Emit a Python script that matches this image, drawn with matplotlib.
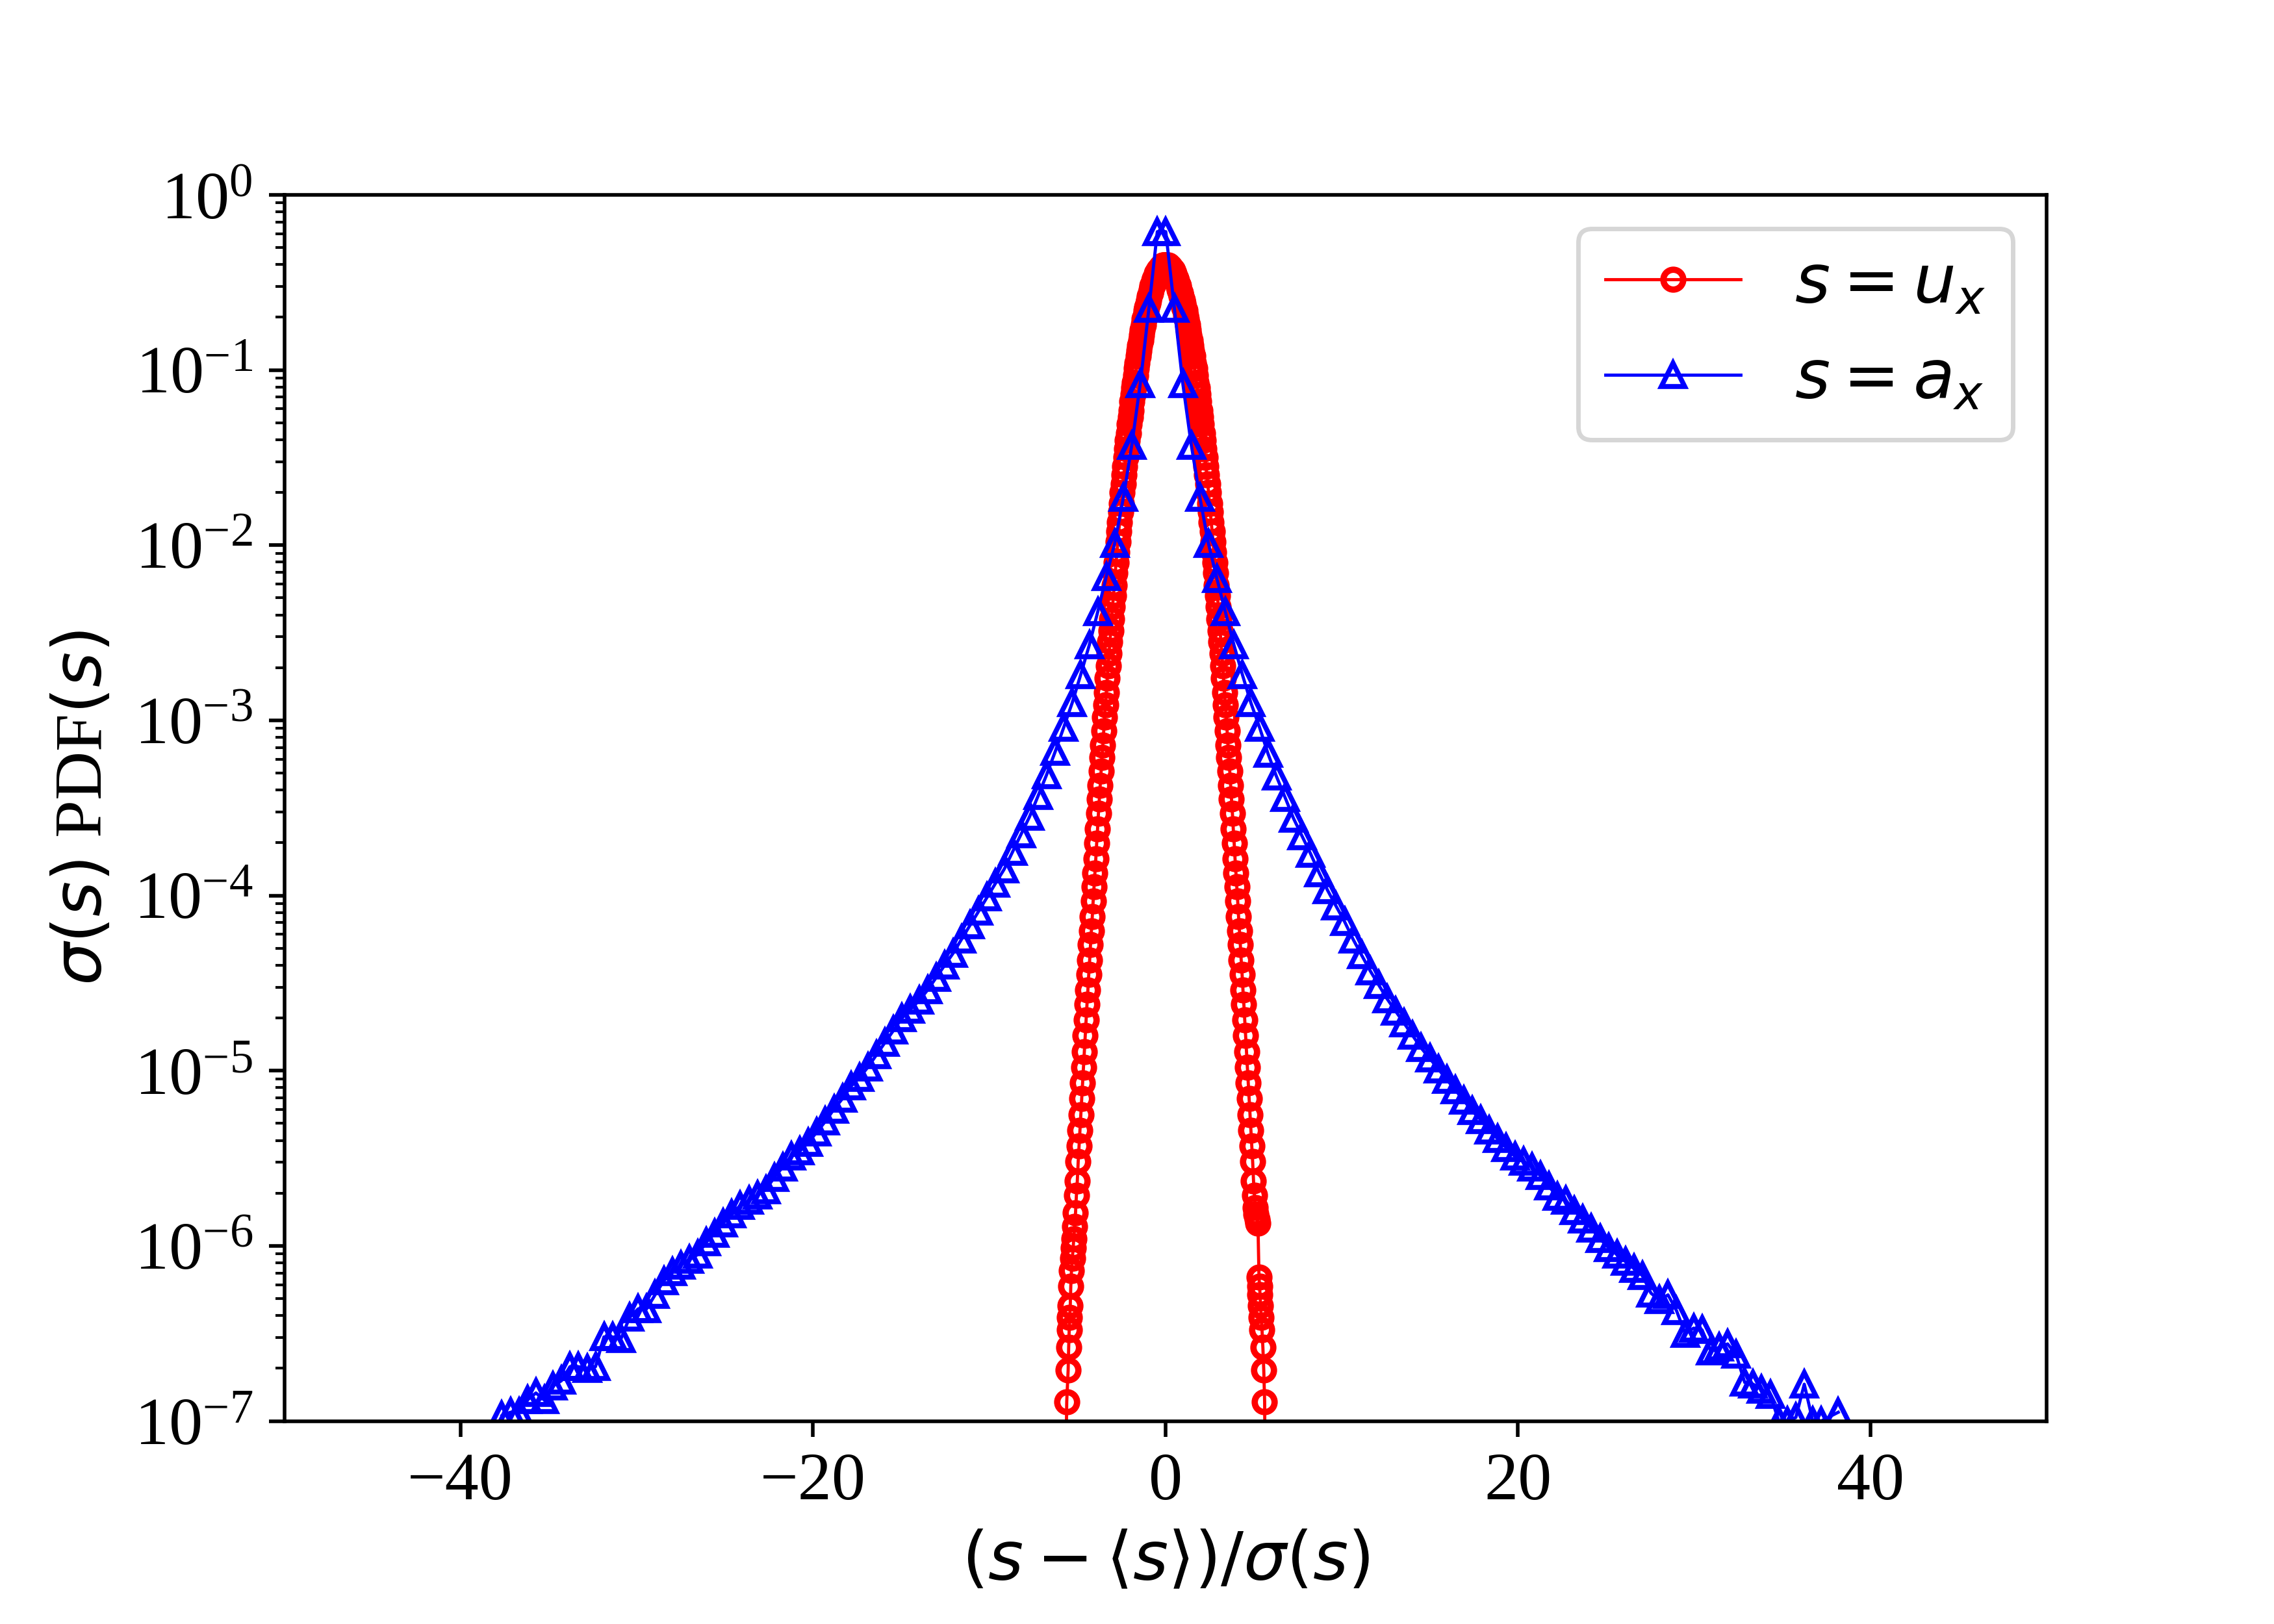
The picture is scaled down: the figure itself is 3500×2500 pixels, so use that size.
import numpy as np
import matplotlib.pyplot as plt

# PDF of s = u_x (velocity), bin centres and log10 of sigma*PDF
ux_x = [
    -5.75, -5.60, -5.52, -5.49, -5.46, -5.43, -5.40, -5.37, -5.33, -5.28,
    -5.24, -5.20, -5.15, -5.10, -5.05, -5.00, -4.95, -4.90, -4.85, -4.80, -4.75,
    -4.70, -4.65, -4.60, -4.55, -4.50, -4.45, -4.40, -4.35, -4.30, -4.25,
    -4.20, -4.15, -4.10, -4.05, -4.00, -3.95, -3.90, -3.85, -3.80, -3.75,
    -3.70, -3.65, -3.60, -3.55, -3.50, -3.45, -3.40, -3.35, -3.30, -3.25,
    -3.20, -3.15, -3.10, -3.05, -3.00, -2.95, -2.90, -2.85, -2.80, -2.75,
    -2.70, -2.65, -2.60, -2.55, -2.50, -2.45, -2.40, -2.35, -2.30, -2.25,
    -2.20, -2.15, -2.10, -2.05, -2.00, -1.95, -1.90, -1.85, -1.80, -1.75,
    -1.70, -1.65, -1.60, -1.55, -1.50, -1.45, -1.40, -1.35, -1.30, -1.25,
    -1.20, -1.15, -1.10, -1.05, -1.00, -0.95, -0.90, -0.85, -0.80, -0.75,
    -0.70, -0.65, -0.60, -0.55, -0.50, -0.45, -0.40, -0.35, -0.30, -0.25,
    -0.20, -0.15, -0.10, -0.05, 0.00,
    0.05, 0.10, 0.15, 0.20, 0.25, 0.30, 0.35, 0.40, 0.45,
    0.50, 0.55, 0.60, 0.65, 0.70, 0.75, 0.80, 0.85, 0.90, 0.95,
    1.00, 1.05, 1.10, 1.15, 1.20, 1.25, 1.30, 1.35, 1.40, 1.45,
    1.50, 1.55, 1.60, 1.65, 1.70, 1.75, 1.80, 1.85, 1.90, 1.95,
    2.00, 2.05, 2.10, 2.15, 2.20, 2.25, 2.30, 2.35, 2.40, 2.45,
    2.50, 2.55, 2.60, 2.65, 2.70, 2.75, 2.80, 2.85, 2.90, 2.95,
    3.00, 3.05, 3.10, 3.15, 3.20, 3.25, 3.30, 3.35, 3.40, 3.45,
    3.50, 3.55, 3.60, 3.65, 3.70, 3.75, 3.80, 3.85, 3.90, 3.95,
    4.00, 4.05, 4.10, 4.15, 4.20, 4.25, 4.30, 4.35, 4.40, 4.45,
    4.50, 4.55, 4.60, 4.65, 4.70, 4.75, 4.80, 4.85, 4.90, 4.95,
    5.00, 5.05, 5.10, 5.15, 5.20, 5.25, 5.31, 5.34, 5.37, 5.40,
    5.44, 5.48, 5.53, 5.58, 5.63, 5.70,
]
ux_logpdf = [
    -8.00, -6.89, -6.71, -6.58, -6.48, -6.41, -6.34, -6.23, -6.14, -6.07,
    -6.01, -5.96, -5.89, -5.81, -5.71, -5.63, -5.52, -5.43, -5.34, -5.25, -5.16,
    -5.07, -4.98, -4.89, -4.80, -4.71, -4.62, -4.54, -4.45, -4.37, -4.28,
    -4.20, -4.12, -4.03, -3.95, -3.87, -3.79, -3.70, -3.62, -3.53, -3.45,
    -3.37, -3.29, -3.21, -3.14, -3.06, -2.98, -2.91, -2.84, -2.76, -2.69,
    -2.62, -2.55, -2.49, -2.42, -2.35, -2.29, -2.23, -2.16, -2.10, -2.04,
    -1.98, -1.92, -1.87, -1.81, -1.76, -1.70, -1.65, -1.60, -1.55, -1.50,
    -1.45, -1.40, -1.36, -1.31, -1.27, -1.23, -1.18, -1.14, -1.10, -1.07,
    -1.03, -0.99, -0.96, -0.92, -0.89, -0.86, -0.83, -0.80, -0.77, -0.74,
    -0.71, -0.69, -0.66, -0.64, -0.62, -0.60, -0.58, -0.56, -0.54, -0.52,
    -0.51, -0.49, -0.48, -0.47, -0.45, -0.44, -0.43, -0.43, -0.42, -0.41,
    -0.41, -0.40, -0.40, -0.40, -0.40,
    -0.40, -0.40, -0.40, -0.41, -0.41, -0.42, -0.43, -0.43, -0.44,
    -0.45, -0.47, -0.48, -0.49, -0.51, -0.52, -0.54, -0.56, -0.58, -0.60,
    -0.62, -0.64, -0.66, -0.69, -0.71, -0.74, -0.77, -0.80, -0.83, -0.86,
    -0.89, -0.92, -0.96, -0.99, -1.03, -1.07, -1.10, -1.14, -1.18, -1.23,
    -1.27, -1.31, -1.36, -1.40, -1.45, -1.50, -1.55, -1.60, -1.65, -1.70,
    -1.76, -1.81, -1.87, -1.92, -1.98, -2.04, -2.10, -2.16, -2.23, -2.29,
    -2.35, -2.42, -2.49, -2.55, -2.62, -2.69, -2.76, -2.84, -2.91, -2.98,
    -3.06, -3.14, -3.21, -3.29, -3.37, -3.45, -3.53, -3.62, -3.70, -3.79,
    -3.87, -3.95, -4.03, -4.12, -4.20, -4.28, -4.37, -4.45, -4.54, -4.62,
    -4.71, -4.80, -4.89, -4.98, -5.07, -5.16, -5.25, -5.34, -5.43, -5.52,
    -5.63, -5.71, -5.78, -5.82, -5.85, -5.87, -6.18, -6.23, -6.28, -6.34,
    -6.41, -6.48, -6.58, -6.71, -6.89, -8.00,
]

# PDF of s = a_x (acceleration)
ax_x = [
    -37.65, -37.17, -36.69, -36.20, -35.72, -35.24, -34.75, -34.27, -33.79, -33.30,
    -32.82, -32.34, -31.86, -31.37, -30.89, -30.41, -29.92, -29.44, -28.96, -28.47,
    -27.99, -27.51, -27.03, -26.54, -26.06, -25.58, -25.09, -24.61, -24.13, -23.64,
    -23.16, -22.68, -22.20, -21.71, -21.23, -20.75, -20.26, -19.78, -19.30, -18.81,
    -18.33, -17.85, -17.37, -16.88, -16.40, -15.92, -15.43, -14.95, -14.47, -13.98,
    -13.50, -13.02, -12.54, -12.05, -11.57, -11.09, -10.60, -10.12, -9.64, -9.15,
    -8.67, -8.19, -7.71, -7.22, -6.74, -6.26, -5.77, -5.29, -4.81, -4.32,
    -3.84, -3.36, -2.88, -2.39, -1.91, -1.43, -0.94, -0.46,
    0.02, 0.51, 0.99, 1.47, 1.96, 2.44, 2.92, 3.40, 3.89, 4.37,
    4.85, 5.34, 5.82, 6.30, 6.79, 7.27, 7.75, 8.23, 8.72, 9.20,
    9.68, 10.17, 10.65, 11.13, 11.62, 12.10, 12.58, 13.06, 13.55, 14.03,
    14.51, 15.00, 15.48, 15.96, 16.45, 16.93, 17.41, 17.89, 18.38, 18.86,
    19.34, 19.83, 20.31, 20.79, 21.28, 21.76, 22.24, 22.72, 23.21, 23.69,
    24.17, 24.66, 25.14, 25.62, 26.11, 26.59, 27.07, 27.55, 28.04, 28.52,
    29.00, 29.49, 29.97, 30.45, 30.94, 31.42, 31.90, 32.38, 32.87, 33.35,
    33.83, 34.32, 34.80, 35.28, 35.77, 36.25, 36.73, 37.21, 38.18,
]
ax_logpdf = [
    -6.97, -6.95, -6.95, -6.88, -6.84, -6.88, -6.80, -6.77, -6.69, -6.69,
    -6.70, -6.69, -6.52, -6.52, -6.53, -6.41, -6.36, -6.36, -6.28, -6.20,
    -6.15, -6.11, -6.08, -6.05, -5.98, -5.93, -5.87, -5.82, -5.77, -5.74,
    -5.71, -5.68, -5.61, -5.55, -5.49, -5.46, -5.41, -5.35, -5.29, -5.22,
    -5.16, -5.09, -5.04, -4.98, -4.91, -4.84, -4.77, -4.70, -4.65, -4.60,
    -4.54, -4.47, -4.40, -4.33, -4.25, -4.17, -4.09, -4.01, -3.93, -3.85,
    -3.75, -3.65, -3.55, -3.43, -3.31, -3.18, -3.04, -2.90, -2.74, -2.57,
    -2.38, -2.18, -1.99, -1.73, -1.43, -1.08, -0.65, -0.21,
    -0.21, -0.65, -1.08, -1.43, -1.73, -1.99, -2.19, -2.38, -2.57, -2.74,
    -2.90, -3.04, -3.19, -3.32, -3.44, -3.56, -3.66, -3.76, -3.87, -3.97,
    -4.06, -4.15, -4.25, -4.34, -4.43, -4.51, -4.59, -4.66, -4.73, -4.80,
    -4.87, -4.93, -4.99, -5.05, -5.11, -5.17, -5.23, -5.28, -5.34, -5.39,
    -5.44, -5.49, -5.52, -5.55, -5.60, -5.66, -5.72, -5.74, -5.80, -5.85,
    -5.90, -5.96, -6.01, -6.05, -6.09, -6.13, -6.17, -6.27, -6.31, -6.28,
    -6.37, -6.50, -6.47, -6.48, -6.60, -6.58, -6.56, -6.62, -6.78, -6.79,
    -6.82, -6.85, -7.00, -7.00, -6.98, -6.79, -7.00, -7.00, -6.95,
]

plt.rcParams['font.family'] = ['Liberation Serif', 'DejaVu Serif']
plt.rcParams['font.size'] = 15
plt.rcParams['mathtext.fontset'] = 'dejavusans'

fig = plt.figure(figsize=(7, 5), dpi=500)
plt.subplots_adjust(left=0.125, right=0.9, top=0.88, bottom=0.125)

plt.plot(ux_x, np.power(10.0, ux_logpdf), 'r-o', mfc='none', ms=4.4, mew=1.4,
         lw=0.7, label=r'$s=u_x$')
plt.plot(ax_x, np.power(10.0, ax_logpdf), 'b-^', mfc='none', ms=5.2, mew=1.1,
         lw=0.7, label=r'$s=a_x$')

plt.yscale('log')
plt.xlim(-50, 50)
plt.ylim(1e-7, 1)
plt.xlabel(r'$(s-\langle s\rangle)/\sigma(s)$')
plt.ylabel(r'$\sigma(s)$ PDF$(s)$')
plt.legend(loc='upper right')

plt.savefig('out.png', dpi=500)
